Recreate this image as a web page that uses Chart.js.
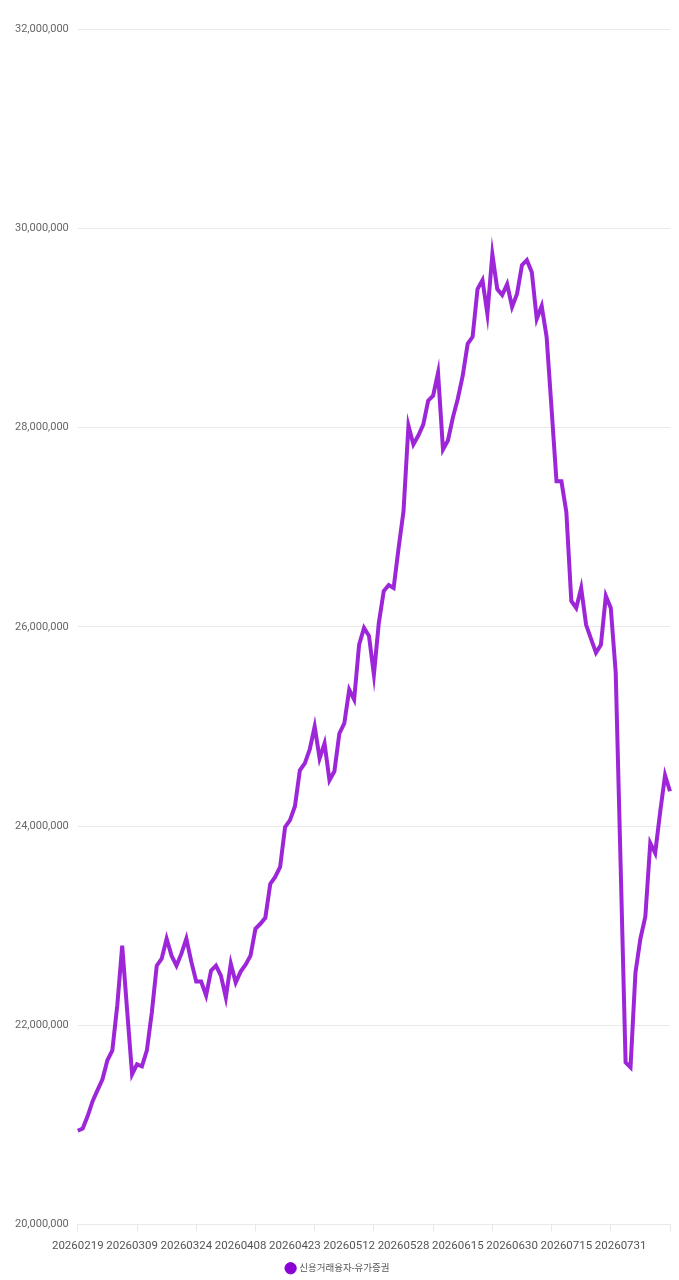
<!DOCTYPE html>
<html>
<head>
<meta charset="utf-8">
<script src="https://cdn.jsdelivr.net/npm/chart.js@4.4.1/dist/chart.umd.min.js"></script>
<style>
  html, body { margin: 0; padding: 0; background: #fff; }
  #wrap { width: 679px; height: 1280px; }
</style>
</head>
<body>
<div id="wrap"><canvas id="creditChart"></canvas></div>
<script>
// trading days
const dates = [
  '20260219', '20260220', '20260223', '20260224', '20260225', '20260226', '20260227',
  '20260303', '20260304', '20260305', '20260306', '20260309', '20260310', '20260311',
  '20260312', '20260313', '20260316', '20260317', '20260318', '20260319', '20260320',
  '20260323', '20260324', '20260325', '20260326', '20260327', '20260330', '20260331',
  '20260401', '20260402', '20260403', '20260406', '20260407', '20260408', '20260409',
  '20260410', '20260413', '20260414', '20260415', '20260416', '20260417', '20260420',
  '20260421', '20260422', '20260423', '20260424', '20260427', '20260428', '20260429',
  '20260430', '20260504', '20260506', '20260507', '20260508', '20260511', '20260512',
  '20260513', '20260514', '20260515', '20260518', '20260519', '20260520', '20260521',
  '20260522', '20260526', '20260527', '20260528', '20260529', '20260601', '20260602',
  '20260604', '20260605', '20260608', '20260609', '20260610', '20260611', '20260612',
  '20260615', '20260616', '20260617', '20260618', '20260619', '20260622', '20260623',
  '20260624', '20260625', '20260626', '20260629', '20260630', '20260701', '20260702',
  '20260703', '20260706', '20260707', '20260708', '20260709', '20260710', '20260713',
  '20260714', '20260715', '20260716', '20260720', '20260721', '20260722', '20260723',
  '20260724', '20260727', '20260728', '20260729', '20260730', '20260731', '20260803',
  '20260804', '20260805', '20260806', '20260807', '20260810', '20260811', '20260812',
  '20260813', '20260814'
];

// 신용거래융자 - 유가증권 (원)
const creditKospi = [
  20943000, 20966000, 21090000, 21240000, 21350000, 21460000, 21650000, 21750000, 22200000, 22800000,
  22150000, 21510000, 21610000, 21590000, 21750000, 22130000, 22600000, 22670000, 22870000, 22700000,
  22600000, 22720000, 22870000, 22640000, 22440000, 22440000, 22300000, 22550000, 22600000, 22500000,
  22280000, 22620000, 22430000, 22540000, 22610000, 22700000, 22970000, 23020000, 23080000, 23420000,
  23490000, 23590000, 23990000, 24060000, 24200000, 24560000, 24630000, 24770000, 25000000, 24680000,
  24830000, 24460000, 24550000, 24930000, 25030000, 25370000, 25270000, 25820000, 25990000, 25910000,
  25520000, 26040000, 26360000, 26420000, 26390000, 26790000, 27160000, 28020000, 27830000, 27920000,
  28030000, 28270000, 28320000, 28550000, 27780000, 27870000, 28100000, 28290000, 28520000, 28840000,
  28910000, 29390000, 29480000, 29140000, 29740000, 29390000, 29330000, 29440000, 29210000, 29340000,
  29630000, 29680000, 29560000, 29090000, 29220000, 28910000, 28190000, 27460000, 27460000, 27150000,
  26260000, 26190000, 26390000, 26020000, 25880000, 25740000, 25820000, 26310000, 26190000, 25540000,
  23600000, 21630000, 21580000, 22530000, 22870000, 23090000, 23830000, 23730000, 24140000, 24510000,
  24350000
];

const labelEvery = 11;   // date label interval
const tickEvery = 12;    // tick mark interval on the axis line

const gridColor = '#e9e9e9';
const purple = '#8a00d4';

new Chart(document.getElementById('creditChart'), {
  type: 'line',
  data: {
    labels: dates,
    datasets: [{
      label: '신용거래융자-유가증권',
      data: creditKospi,
      borderColor: 'rgba(140, 0, 210, 0.85)',
      backgroundColor: purple,
      pointBackgroundColor: purple,
      pointBorderColor: purple,
      pointBorderWidth: 1,
      borderWidth: 4,
      pointRadius: 0,
      tension: 0,
      fill: false
    }]
  },
  options: {
    responsive: true,
    maintainAspectRatio: false,
    animation: false,
    layout: { padding: { top: 29, right: 9, left: 6, bottom: -3 } },
    plugins: {
      legend: {
        position: 'bottom',
        labels: {
          usePointStyle: true,
          pointStyle: 'circle',
          boxWidth: 8,
          boxHeight: 8,
          padding: 2,
          color: '#555',
          font: { family: 'Roboto, "Noto Sans CJK KR", sans-serif', size: 9.5 }
        }
      },
      tooltip: { enabled: false }
    },
    scales: {
      x: {
        grid: {
          drawOnChartArea: false,
          drawTicks: true,
          tickLength: 7,
          tickColor: (c) => (c.index % tickEvery === 0 ? gridColor : 'transparent')
        },
        border: { display: true, color: gridColor },
        ticks: {
          autoSkip: false,
          maxRotation: 0,
          padding: 8,
          color: '#555',
          font: { family: 'Roboto, sans-serif', size: 11.5 },
          callback: function (value, index) {
            return index % labelEvery === 0 ? this.getLabelForValue(value) : '';
          }
        }
      },
      y: {
        min: 20000000,
        max: 32000000,
        grid: { color: gridColor, drawTicks: false },
        border: { display: false },
        ticks: {
          stepSize: 2000000,
          padding: 9,
          color: '#666',
          font: { family: 'Roboto, sans-serif', size: 11 },
          callback: (v) => v.toLocaleString('en-US')
        }
      }
    }
  }
});
</script>
</body>
</html>
